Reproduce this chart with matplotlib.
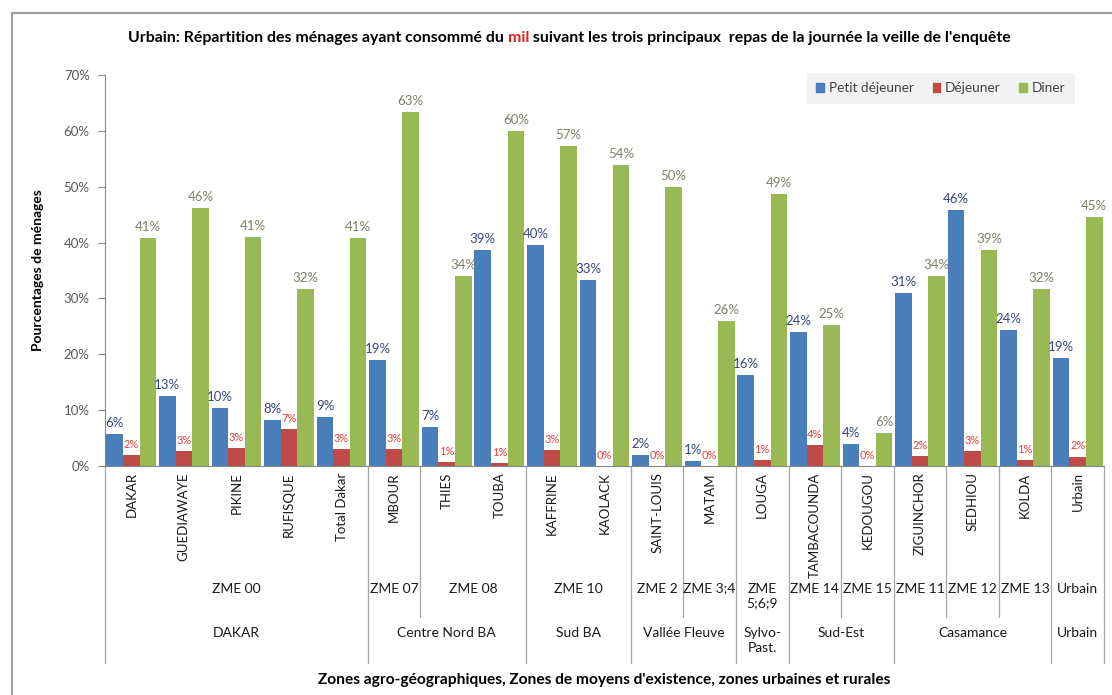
import matplotlib.pyplot as plt
import numpy as np
from matplotlib.patches import Patch, Rectangle

plt.rcParams['font.family'] = ['Lato', 'DejaVu Sans']

# Donnees : % de menages ayant consomme du mil par repas
villes = ['DAKAR', 'GUEDIAWAYE', 'PIKINE', 'RUFISQUE', 'Total Dakar', 'MBOUR',
          'THIES', 'TOUBA', 'KAFFRINE', 'KAOLACK', 'SAINT-LOUIS', 'MATAM',
          'LOUGA', 'TAMBACOUNDA', 'KEDOUGOU', 'ZIGUINCHOR', 'SEDHIOU', 'KOLDA',
          'Urbain']
petit_dej = [5.8, 12.6, 10.3, 8.3, 8.7, 18.9, 6.9, 38.7, 39.5, 33.3, 1.9, 0.9,
             16.3, 24.0, 3.9, 30.9, 45.8, 24.3, 19.4]
dejeuner = [2.0, 2.6, 3.2, 6.6, 3.0, 3.0, 0.8, 0.6, 2.8, 0.0, 0.0, 0.0,
            1.1, 3.8, 0.0, 1.8, 2.7, 1.1, 1.7]
diner = [40.8, 46.2, 41.0, 31.6, 40.8, 63.4, 34.0, 59.9, 57.3, 53.9, 50.0, 26.0,
         48.7, 25.3, 5.9, 34.0, 38.6, 31.6, 44.6]

# Niveaux de l'axe des categories (libelle, nombre de villes)
zme = [('ZME 00', 5), ('ZME 07', 1), ('ZME 08', 2), ('ZME 10', 2), ('ZME 2', 1),
       ('ZME 3;4', 1), ('ZME\n5;6;9', 1), ('ZME 14', 1), ('ZME 15', 1),
       ('ZME 11', 1), ('ZME 12', 1), ('ZME 13', 1), ('Urbain', 1)]
zones = [('DAKAR', 5), ('Centre Nord BA', 3), ('Sud BA', 2), ('Vallée Fleuve', 2),
         ('Sylvo-\nPast.', 1), ('Sud-Est', 2), ('Casamance', 3), ('Urbain', 1)]

series = ['Petit déjeuner', 'Déjeuner', 'Diner']
couleurs = ['#4a7ebb', '#be4b48', '#98b954']
couleurs_txt = ['#34487e', '#e5403f', '#7f7f68']
tailles_txt = [9.5, 8, 9.5]

fig = plt.figure(figsize=(11.12, 6.95), dpi=100)
ax = fig.add_axes([105 / 1112, 1 - 466 / 695, 999 / 1112, 391 / 695])

x = np.arange(len(villes)) + 0.5
w = 0.315
for k, vals in enumerate([petit_dej, dejeuner, diner]):
    pos = x + (k - 1) * w
    ax.bar(pos, vals, width=w, color=couleurs[k], label=series[k], zorder=2)
    for px, v in zip(pos, vals):
        ax.text(px, v + 0.9, f'{v:.0f}%', ha='center', va='bottom',
                fontsize=tailles_txt[k], color=couleurs_txt[k])

ax.set_xlim(0, len(villes))
ax.set_ylim(0, 70)
ax.set_yticks(np.arange(0, 71, 10))
ax.set_yticklabels([f'{t}%' for t in range(0, 71, 10)], fontsize=9.5, color='#595959')
ax.set_xticks([])
ax.tick_params(axis='y', direction='out', length=5, color='#868686', pad=6)
for s in ['top', 'right']:
    ax.spines[s].set_visible(False)
ax.spines['left'].set_color('#868686')
ax.spines['bottom'].set_color('#868686')

ax.set_ylabel('Pourcentages de ménages', fontsize=10, fontweight='bold', labelpad=14)

# Axe des categories a trois niveaux
tr = ax.get_xaxis_transform()
for xi, nom in zip(x, villes):
    ax.text(xi, -0.016, nom, rotation=90, ha='center', va='top', fontsize=9.5,
            color='#1a1a1a', transform=tr)

bord_zme = np.cumsum([0] + [n for _, n in zme])
bord_zone = np.cumsum([0] + [n for _, n in zones])
for b in sorted(set(bord_zme) | set(bord_zone)):
    bas = -0.504 if b in bord_zone else -0.386
    ax.plot([b, b], [0, bas], color='#a6a6a6', lw=0.9, transform=tr, clip_on=False)

for (nom, n), debut in zip(zme, bord_zme[:-1]):
    ax.text(debut + n / 2, -0.298, nom, ha='center', va='top', fontsize=10,
            color='#1a1a1a', linespacing=1.25, transform=tr)
for (nom, n), debut in zip(zones, bord_zone[:-1]):
    ax.text(debut + n / 2, -0.413, nom, ha='center', va='top', fontsize=10,
            color='#1a1a1a', linespacing=1.25, transform=tr)

ax.text(len(villes) / 2, -0.53,
        "Zones agro-géographiques, Zones de moyens d'existence, zones urbaines et rurales",
        ha='center', va='top', fontsize=11.2, fontweight='bold', transform=tr)

# Titre avec le mot "mil" en rouge
t1 = fig.text(128 / 1112, 1 - 38 / 695,
              'Urbain: Répartition des ménages ayant consommé du ',
              ha='left', va='center', fontsize=11.4, fontweight='bold')
t2 = ax.annotate('mil', xy=(1, 0), xycoords=t1, va='bottom', ha='left',
                 fontsize=11.4, fontweight='bold', color='#e02020')
ax.annotate(" suivant les trois principaux  repas de la journée la veille de l'enquête",
            xy=(1, 0), xycoords=t2, va='bottom', ha='left',
            fontsize=11.4, fontweight='bold')

poignees = [Patch(color=c) for c in couleurs]
leg = fig.legend(poignees, series, loc='upper left',
                 bbox_to_anchor=(800 / 1112, 1 - 66 / 695), ncol=3,
                 fontsize=9.8, frameon=True, facecolor='#f2f2f2', edgecolor='none',
                 fancybox=False, handlelength=0.55, handleheight=0.55,
                 handletextpad=0.35, columnspacing=1.4, borderpad=0.7)
leg.get_frame().set_alpha(1)
for t in leg.get_texts():
    t.set_color('#404040')

# Cadre du graphique
fig.add_artist(Rectangle((12 / 1112, -0.1), 1.2, 1 - 13 / 695 + 0.1,
                         transform=fig.transFigure, fill=False,
                         edgecolor='#a0a0a0', lw=1.5))

fig.savefig('out.png', dpi=100)
